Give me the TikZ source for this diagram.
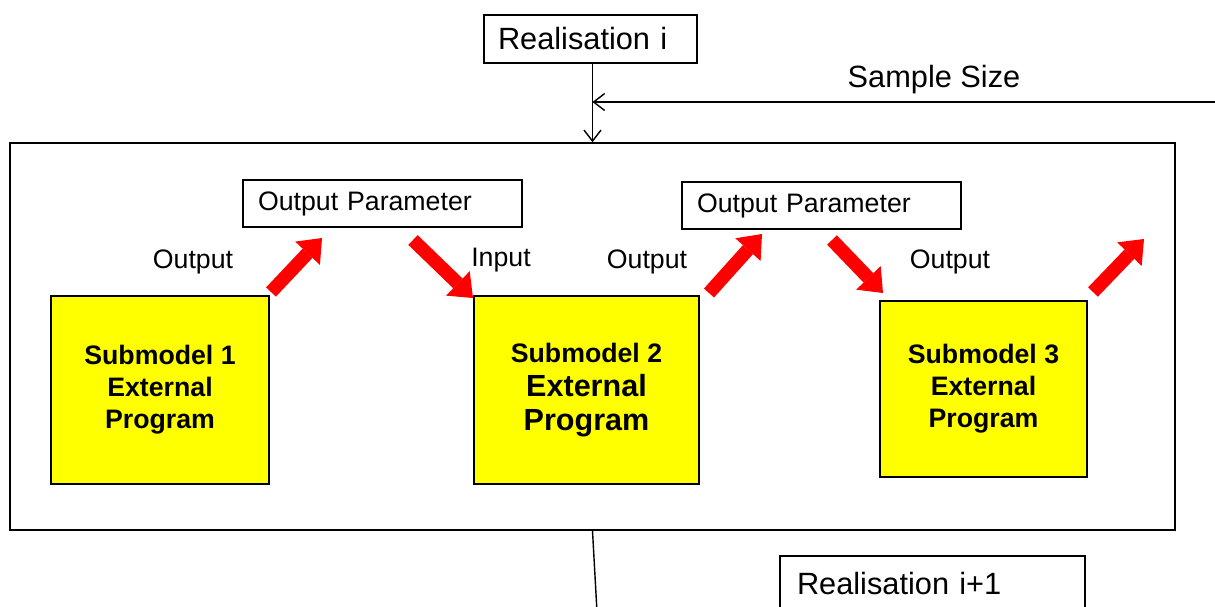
\documentclass[tikz,border=0pt]{standalone}
\usepackage{fontspec}
\setmainfont{Liberation Sans}
\usetikzlibrary{arrows.meta,calc,positioning}
\definecolor{subyellow}{RGB}{255,255,0}
\tikzset{
        textbox/.style = {draw, rectangle, line width=0.9pt, align=left,
            font=\fontsize{17.5}{21}\selectfont},
        parbox/.style = {textbox, minimum width=5.58cm, minimum height=0.94cm,
            text width=4.98cm, inner xsep=0.3cm,
            font=\fontsize{15.2}{18}\selectfont},
        submodel/.style = {draw, rectangle, line width=0.9pt, fill=subyellow,
            align=center, font=\bfseries\fontsize{15.2}{18.2}\selectfont},
        container/.style = {draw, rectangle, line width=0.9pt,
            minimum width=23.3cm, minimum height=7.74cm},
        tag/.style = {font=\fontsize{15.2}{18}\selectfont, inner sep=0pt},
        arrow/.style = {draw, line width=0.8pt,
            -{Straight Barb[length=0.22cm,width=0.34cm]}},
        flow/.style = {draw=red, line width=0.27cm,
            -{Triangle[length=0.42cm,width=0.68cm,line width=0pt]}},
    }

\begin{document}
\begin{tikzpicture}[x=0.02cm, y=-0.02cm]
    \useasboundingbox (0,0) rectangle (1215,606);
    \clip (0,0) rectangle (1215,606);

    \node[textbox, minimum width=4.26cm, minimum height=0.96cm,
        text width=3.70cm, inner xsep=0.28cm] (real) at (590.5,39) {Realisation i};
    \node[container] (main) at (592.5,336.5) {};
    \node[font=\fontsize{17.5}{21}\selectfont] (ssize) at (934,80) {Sample Size};

    \node[parbox] (par1) at (382.5,203.5) {Output Parameter};
    \node[parbox] (par2) at (821.5,205.5) {Output Parameter};

    \node[submodel, minimum width=4.36cm, minimum height=3.76cm] (sub1)
        at (160,390) {Submodel 1\\External\\Program};
    \node[submodel, minimum width=4.5cm, minimum height=3.76cm] (sub2)
        at (586.5,390) {Submodel 2\\[1pt]{\fontsize{17.4}{21}\selectfont External}\\[1pt]{\fontsize{17.4}{21}\selectfont Program}};
    \node[submodel, minimum width=4.14cm, minimum height=3.52cm] (sub3)
        at (983.5,389) {Submodel 3\\External\\Program};

    \node[tag] (out1) at (193,262) {Output};
    \node[tag] (in2) at (501,260) {Input};
    \node[tag] (out2) at (647,262) {Output};
    \node[tag] (out3) at (950,262) {Output};

    \node[textbox, minimum width=6.1cm, minimum height=1.12cm,
        text width=5.42cm, inner xsep=0.34cm] (real2) at (932.5,584) {Realisation i+1};

    \coordinate (ssin) at (1230,102);
    \coordinate (next) at (597,612);
    \coordinate (f1a) at (271,292);
    \coordinate (f1b) at (322,238);
    \coordinate (f2a) at (413,240);
    \coordinate (f2b) at (473,298);
    \coordinate (f3a) at (709,293);
    \coordinate (f3b) at (762,234);
    \coordinate (f4a) at (832,240);
    \coordinate (f4b) at (883,293);
    \coordinate (f5a) at (1093,292);
    \coordinate (f5b) at (1144,239);

    \draw[arrow] (real.south -| main.north) -- (main.north);
    \draw[arrow] (ssin) -- (ssin -| main.north);
    \draw[line width=0.8pt] (main.south) -- (next);

    \draw[flow] (f1a) -- (f1b);
    \draw[flow] (f2a) -- (f2b);
    \draw[flow] (f3a) -- (f3b);
    \draw[flow] (f4a) -- (f4b);
    \draw[flow] (f5a) -- (f5b);
\end{tikzpicture}
\end{document}
